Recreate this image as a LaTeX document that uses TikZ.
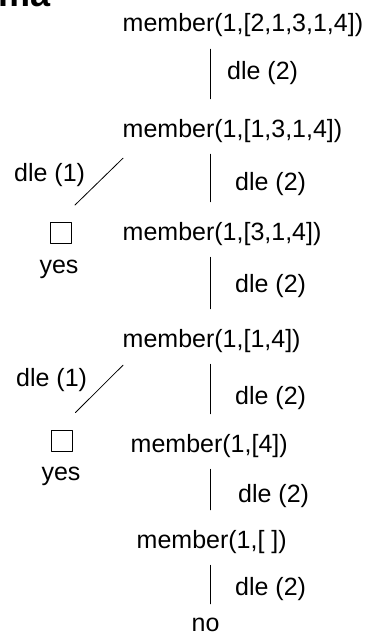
\documentclass[tikz,border=0pt]{standalone}
\usepackage{fontspec}
\setmainfont{Liberation Sans}
\begin{document}
\begin{tikzpicture}[x=1pt, y=-1pt, line join=round, line cap=round,
  font=\fontsize{25}{30}\selectfont,
  goal/.style={anchor=base west, inner sep=0pt, text height=18pt, text depth=5pt},
  lbl/.style={anchor=base west, inner sep=0pt},
  branch/.style={line width=.8pt},
  edge/.style={branch, shorten <=12pt, shorten >=20pt},
  leaf/.style={draw, line width=.6pt, minimum size=21pt, inner sep=0pt}]
\useasboundingbox (0,0) rectangle (369,634);
%\draw[gray!40] (0,0) grid[step=50] (369,634);
\node[anchor=base west, inner sep=0pt, font=\fontsize{36}{40}\selectfont\bfseries] (ttl) at (-2,6.5) {ma};
% Ziele
\node[goal] (m1) at (122.5,32) {member(1,[2,1,3,1,4])};
\node[goal] (m2) at (122.5,137) {member(1,[1,3,1,4])};
\node[goal] (m3) at (122.5,240) {member(1,[3,1,4])};
\node[goal] (m4) at (122.5,347) {member(1,[1,4])};
\node[goal] (m5) at (130.5,452) {member(1,[4])};
\node[goal] (m6) at (136.5,548) {member(1,[ ])};
\node[goal, text depth=0pt] (no) at (191.5,631) {no};
% Erfolg
\node[leaf] (b1) at (61,233) {};
\node[leaf] (b2) at (62,441) {};
\node[anchor=base] (y1) at (59,273) {yes};
\node[anchor=base] (y2) at (61,480) {yes};
% Kanten
\coordinate (spine) at (210,0);
\draw[edge] (spine |- m1.south) -- (spine |- m2.north);
\draw[edge] (spine |- m2.south) -- (spine |- m3.north);
\draw[edge] (spine |- m3.south) -- (spine |- m4.north);
\draw[edge] (spine |- m4.south) -- (spine |- m5.north);
\draw[edge] (spine |- m5.south) -- (spine |- m6.north);
\draw[edge, shorten >=9pt] (spine |- m6.south) -- (spine |- no.north);
\draw[branch] ([shift={(3,-17)}]b1.north east) -- ([shift={(0.5,16)}]m2.south west);
\draw[branch] ([shift={(2.5,-17.5)}]b2.north east) -- ([shift={(0.5,13)}]m4.south west);
% Klauseln
\node[lbl] (r1) at (227,79) {dle (2)};
\node[lbl] (r2) at (235,190) {dle (2)};
\node[lbl] (r3) at (235,292) {dle (2)};
\node[lbl] (r4) at (235,404) {dle (2)};
\node[lbl] (r5) at (238,502) {dle (2)};
\node[lbl] (r6) at (235,595) {dle (2)};
\node[lbl] (l1) at (14,181) {dle (1)};
\node[lbl] (l2) at (16,386) {dle (1)};
\end{tikzpicture}
\end{document}
